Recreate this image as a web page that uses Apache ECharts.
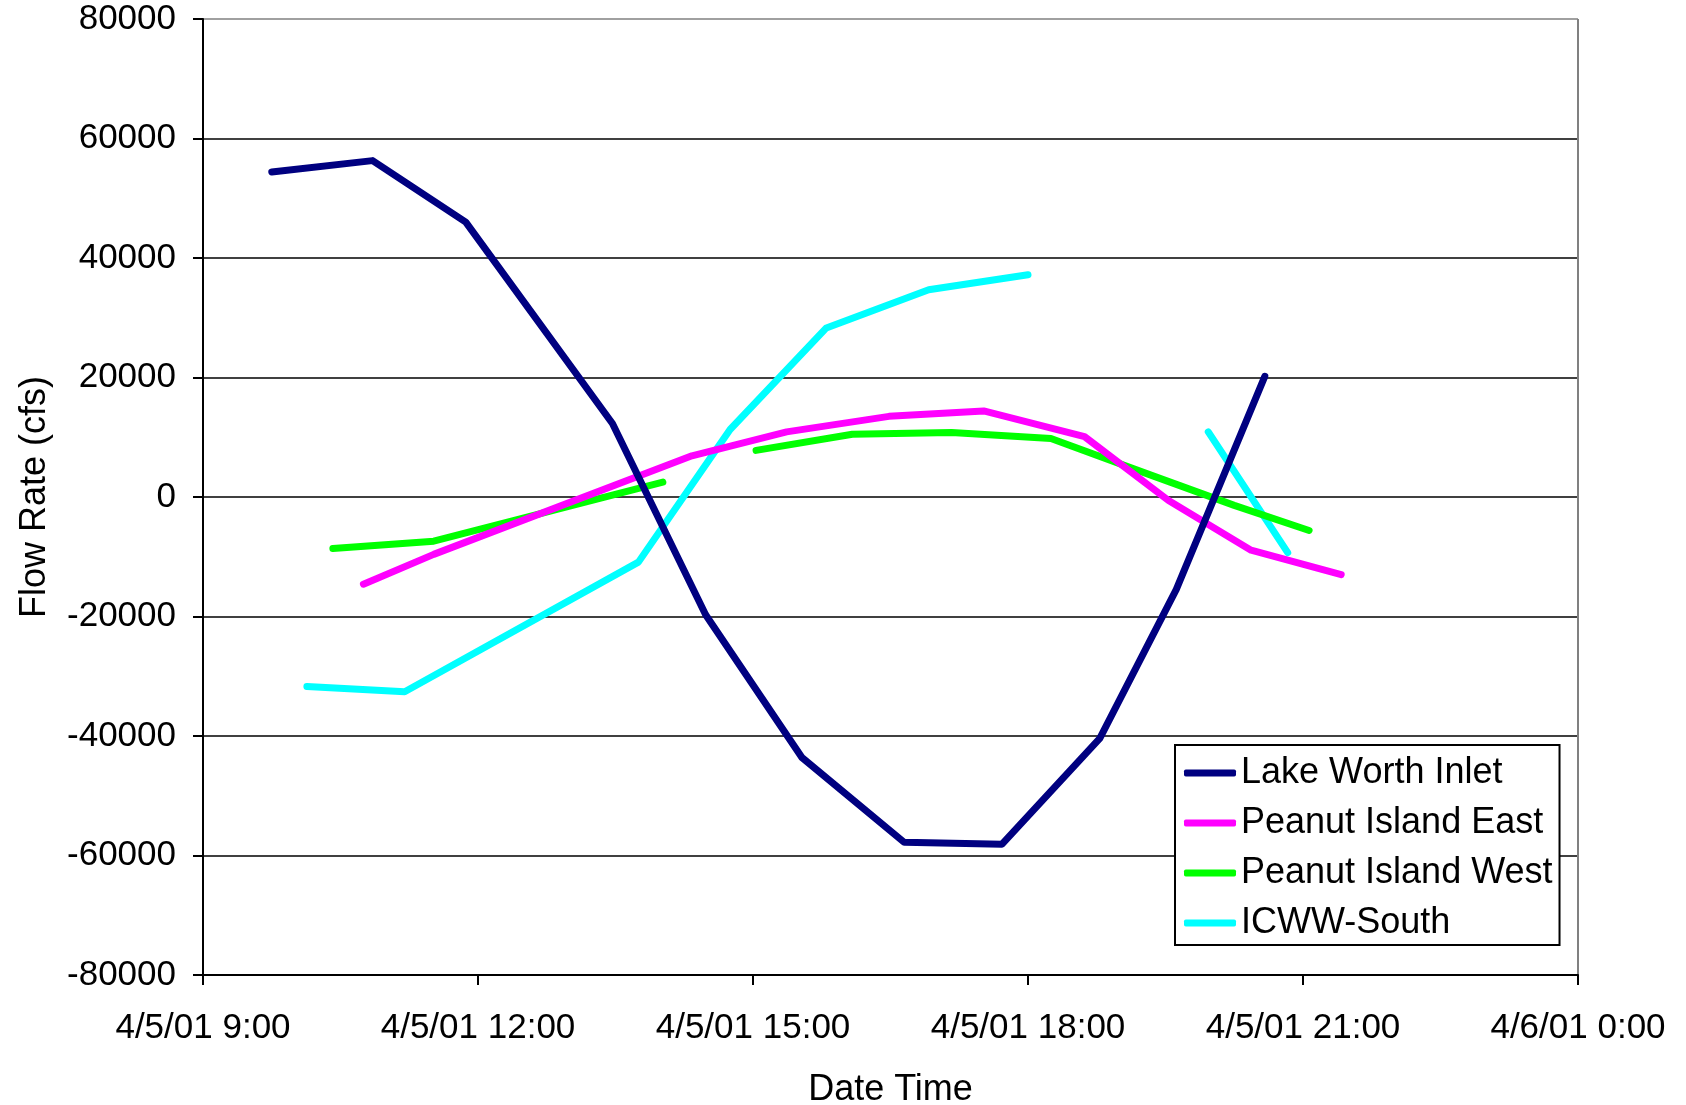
<!DOCTYPE html>
<html>
<head>
<meta charset="utf-8">
<script src="https://cdn.jsdelivr.net/npm/echarts@6/dist/echarts.min.js"></script>
<style>
html,body{margin:0;padding:0;background:#fff;}
#chart{width:1686px;height:1105px;}
</style>
</head>
<body>
<div id="chart"></div>
<script>
// ---- data (time of day on 4/5/01, flow rate in cfs); null marks a break in the line ----
const seriesNames = ["Lake Worth Inlet", "Peanut Island East", "Peanut Island West", "ICWW-South"];
const seriesColors = ["#000080", "#FF00FF", "#00FF00", "#00FFFF"];

const lakeWorthTimes  = ["9:45","10:51","11:52","13:28","14:29","15:32","16:39","17:43","18:47","19:37","20:35"];
const lakeWorthValues = [54400, 56300, 46000, 12300, -19700, -43600, -57800, -58100, -40400, -15500, 20200];

const peanutEastTimes  = ["10:45","11:31","14:20","15:22","16:29","17:31","18:37","19:32","20:26","21:25"];
const peanutEastValues = [-14600, -9600, 6900, 10900, 13500, 14400, 10100, -600, -8900, -13000];

const peanutWestTimes  = ["10:25","11:31","14:01", null, "15:02","16:05","17:10","18:15","19:20","20:15","21:04"];
const peanutWestValues = [-8600, -7400, 2500, null, 7800, 10500, 10800, 9800, 3700, -1400, -5600];

const icwwTimes  = ["10:08","11:12","13:45","14:45","15:48","16:55","18:00", null, "19:58","20:50"];
const icwwValues = [-31700, -32600, -10900, 11300, 28300, 34700, 37200, null, 10900, -9300];

const xTickLabels = ["4/5/01 9:00","4/5/01 12:00","4/5/01 15:00","4/5/01 18:00","4/5/01 21:00","4/6/01 0:00"];
const yTicks = [-80000,-60000,-40000,-20000,0,20000,40000,60000,80000];

// ---- build ----
function toHours(t){ const p=t.split(":"); return +p[0] + (+p[1])/60; }
function pairs(times, vals){
  return times.map((t,i)=> t===null ? ['-','-'] : [toHours(t), vals[i]]);
}
const allData = [
  pairs(lakeWorthTimes, lakeWorthValues),
  pairs(peanutEastTimes, peanutEastValues),
  pairs(peanutWestTimes, peanutWestValues),
  pairs(icwwTimes, icwwValues)
];

const FONT = "'Liberation Sans', Arial, sans-serif";
const chart = echarts.init(document.getElementById('chart'), null, {renderer:'canvas'});

const xMin = 9, xMax = 24, xStep = 3;
const ySplitColors = yTicks.map((v,i)=> i===yTicks.length-1 ? '#808080' : '#000000');
const xSplitColors = xTickLabels.map((v,i)=> i===xTickLabels.length-1 ? '#808080' : 'rgba(0,0,0,0)');

chart.setOption({
  animation:false,
  backgroundColor:'#ffffff',
  textStyle:{fontFamily:FONT},
  grid:{left:203, right:108, top:19, bottom:130, containLabel:false, outerBoundsMode:'none'},
  legend:{
    orient:'vertical',
    left:1175, top:745,
    padding:[10,7,4,9],
    itemGap:14,
    itemWidth:52, itemHeight:7,
    icon:'roundRect',
    borderColor:'#000', borderWidth:2, backgroundColor:'#fff',
    textStyle:{fontSize:36, color:'#000', fontFamily:FONT},
    data:seriesNames
  },
  xAxis:{
    type:'value', min:xMin, max:xMax, interval:xStep,
    name:'Date Time', nameLocation:'middle', nameGap:97,
    nameTextStyle:{fontSize:36, color:'#000', fontFamily:FONT},
    axisLine:{show:true, onZero:false, lineStyle:{color:'#000', width:2}},
    axisTick:{show:true, inside:false, length:10, lineStyle:{color:'#000', width:2}},
    axisLabel:{
      fontSize:35, color:'#000', margin:36, fontFamily:FONT,
      formatter:(v)=> xTickLabels[Math.round((v-xMin)/xStep)] || ''
    },
    splitLine:{show:true, lineStyle:{color:xSplitColors, width:2}}
  },
  yAxis:{
    type:'value', min:yTicks[0], max:yTicks[yTicks.length-1], interval:20000,
    name:'Flow Rate (cfs)', nameLocation:'middle', nameGap:150, nameRotate:90,
    nameTextStyle:{fontSize:36, color:'#000', fontFamily:FONT},
    axisLine:{show:true, onZero:false, lineStyle:{color:'#000', width:2}},
    axisTick:{show:true, inside:false, length:10, lineStyle:{color:'#000', width:2}},
    axisLabel:{fontSize:35, color:'#000', margin:27, fontFamily:FONT, formatter:(v)=> String(v)},
    splitLine:{show:true, lineStyle:{color:ySplitColors, width:1.5}}
  },
  series: seriesNames.map((n,i)=>({
    name:n, type:'line', data:allData[i],
    symbol:'none', showSymbol:false, connectNulls:false,
    color:seriesColors[i],
    lineStyle:{color:seriesColors[i], width:7, cap:'round', join:'round'},
    itemStyle:{color:seriesColors[i]},
    z: 10 - i
  }))
});
</script>
</body>
</html>
